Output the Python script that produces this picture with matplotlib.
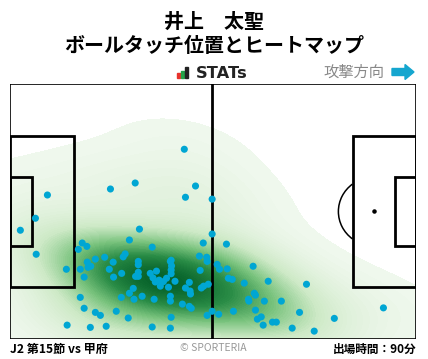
import numpy as np
import matplotlib
matplotlib.use("Agg")
from matplotlib import pyplot as plt
from matplotlib.patches import Rectangle, Arc, FancyArrow
from matplotlib.colors import LinearSegmentedColormap

plt.rcParams['font.family'] = ['Noto Sans CJK JP', 'DejaVu Sans']

# textos
title1 = "井上　太聖"
title2 = "ボールタッチ位置とヒートマップ"
match_txt = "J2 第15節 vs 甲府"
time_txt = "出場時間：90分"
dir_txt = "攻撃方向"

# posiciones de las tocadas de balón (m, y medido desde arriba)
touch_x = [45.0, 9.6, 25.9, 32.3, 47.9, 45.3, 52.2, 6.5, 2.6, 33.4,
           52.2, 30.8, 36.7, 49.9, 55.9, 18.6, 19.8, 17.6, 6.7, 14.5,
           22.0, 24.4, 26.6, 29.7, 29.2, 19.9, 20.1, 20.8, 25.6, 18.1,
           19.1, 26.7, 28.8, 33.1, 33.1, 33.1, 32.4, 33.1, 36.2, 37.8,
           36.9, 37.5, 38.5, 39.6, 40.4, 38.8, 40.9, 42.6, 41.6, 41.4,
           41.7, 41.6, 41.6, 45.3, 46.3, 46.5, 46.6, 48.9, 50.8, 50.9,
           49.1, 49.4, 50.0, 51.2, 53.5, 54.1, 31.8, 30.8, 28.7, 32.0,
           34.1, 37.2, 41.4, 41.4, 44.5, 46.3, 46.8, 50.9, 52.2, 53.9,
           18.1, 19.1, 22.0, 23.3, 27.4, 30.5, 41.6, 14.7, 20.7, 24.8,
           36.7, 41.4, 62.8, 56.1, 56.4, 57.4, 60.5, 66.7, 76.6, 63.1,
           63.4, 61.6, 61.7, 65.7, 70.1, 63.4, 57.7, 64.9, 63.9, 65.4,
           67.8, 68.8, 72.9, 74.8, 78.6, 96.5, 83.8]
touch_y = [17.4, 29.6, 28.0, 26.4, 27.2, 30.2, 30.7, 35.8, 39.0, 38.7,
           40.0, 41.6, 43.5, 42.4, 42.7, 42.4, 43.3, 44.1, 45.4, 49.4,
           46.7, 46.2, 47.5, 45.3, 46.1, 47.5, 48.9, 48.6, 49.4, 49.4,
           51.5, 51.5, 50.5, 47.3, 48.2, 50.2, 51.3, 51.3, 50.5, 49.9,
           51.7, 52.8, 52.3, 52.7, 51.8, 53.9, 54.2, 52.6, 47.0, 47.3,
           48.5, 49.6, 50.6, 54.4, 52.9, 55.2, 56.0, 45.9, 46.2, 47.3,
           49.7, 54.4, 53.9, 53.4, 48.1, 49.4, 54.5, 55.8, 56.9, 57.4,
           56.6, 57.4, 56.6, 57.9, 58.7, 59.3, 59.8, 61.7, 60.6, 61.4,
           56.9, 59.8, 60.9, 61.7, 60.6, 62.4, 62.2, 64.3, 64.9, 64.6,
           64.8, 65.1, 48.6, 49.3, 51.8, 52.1, 53.1, 52.6, 53.4, 55.8,
           56.3, 57.4, 57.9, 57.9, 57.9, 60.3, 60.6, 62.1, 62.7, 64.3,
           63.5, 63.5, 65.1, 60.9, 65.9, 59.7, 62.5]

L, W = 105.0, 68.0

fig = plt.figure(figsize=(4.28, 3.59), dpi=100)
ax = fig.add_axes([10.3 / 428, (359 - 339) / 359, 406 / 428, 255 / 359])
ax.set_xlim(0, L)
ax.set_ylim(W, 0)
ax.axis('off')

############ mapa de calor (KDE gaussiano)
xy = np.vstack([touch_x, touch_y])
n = xy.shape[1]
cov = np.cov(xy) * n ** (-1 / 3) * 1.5 ** 2
inv = np.linalg.inv(cov)
gx, gy = np.meshgrid(np.linspace(0, L, 320), np.linspace(0, W, 210))
pts = np.vstack([gx.ravel(), gy.ravel()])
d = pts[:, :, None] - xy[:, None, :]
q = np.einsum('ipn,ij,jpn->pn', d, inv, d)
z = np.exp(-0.5 * q).sum(axis=1).reshape(gx.shape)
z = z / z.max()
cmap = LinearSegmentedColormap.from_list(
    'verde', ['#f0f8ee', '#cde9c6', '#78c27c', '#2a8c46', '#06622a'])
ax.contourf(gx, gy, z, levels=np.linspace(0.011, 1.0, 70), cmap=cmap,
            zorder=1)

############ campo
lk = dict(color='black', zorder=3)
ax.add_patch(Rectangle((0, 0), L, W, fill=False, lw=1.2, **lk))
ax.plot([L / 2 - 0.25, L / 2 - 0.25], [0, W], lw=2, **lk)
pb_y = (W - 40.32) / 2
ga_y = (W - 18.32) / 2
for x0 in [0, L - 16.5]:
    ax.add_patch(Rectangle((x0, pb_y), 16.5, 40.32, fill=False, lw=2, **lk))
for x0 in [0, L - 5.5]:
    ax.add_patch(Rectangle((x0, ga_y), 5.5, 18.32, fill=False, lw=2, **lk))
ax.scatter([L - 11], [W / 2], s=5, c='black', zorder=3)
ax.add_patch(Arc((L - 11, W / 2), 18.3, 18.3, theta1=127, theta2=233,
                 lw=1.1, **lk))

############ puntos
ax.scatter(touch_x, touch_y, s=26, c='#00a6d3', edgecolors='none',
           zorder=4, clip_on=False)

############ textos
fig.text(0.5, 1 - 21 / 359, title1, ha='center', va='center',
         fontsize=14.4, fontweight='bold')
fig.text(0.5, 1 - 46 / 359, title2, ha='center', va='center',
         fontsize=14.4, fontweight='bold')

# logo STATs
for i, (h, c) in enumerate(zip([5, 7, 11], ['#e8322c', '#24a148', '#222222'])):
    fig.patches.append(Rectangle(((177 + i * 4) / 428, 1 - 78 / 359),
                                 3 / 428, h / 359, color=c,
                                 transform=fig.transFigure))
fig.text(196 / 428, 1 - 73 / 359, "STATs", ha='left', va='center',
         fontsize=11.7, fontweight='bold', color='#222222',
         family='DejaVu Sans')

fig.text(384 / 428, 1 - 72 / 359, dir_txt, ha='right', va='center',
         fontsize=11, color='#888888')
fig.patches.append(FancyArrow(392 / 428, 1 - 72 / 359, 22 / 428, 0,
                              width=7 / 359, head_width=15 / 359,
                              head_length=9 / 428, length_includes_head=True,
                              color='#15a6cf', transform=fig.transFigure))

fig.text(10 / 428, 1 - 349 / 359, match_txt, ha='left', va='center',
         fontsize=8.7, fontweight='bold')
fig.text(213 / 428, 1 - 348 / 359, "© SPORTERIA", ha='center', va='center',
         fontsize=7.5, color='#999999')
fig.text(416 / 428, 1 - 349 / 359, time_txt, ha='right', va='center',
         fontsize=8.4, fontweight='bold')

plt.savefig('out.png', dpi=100)
